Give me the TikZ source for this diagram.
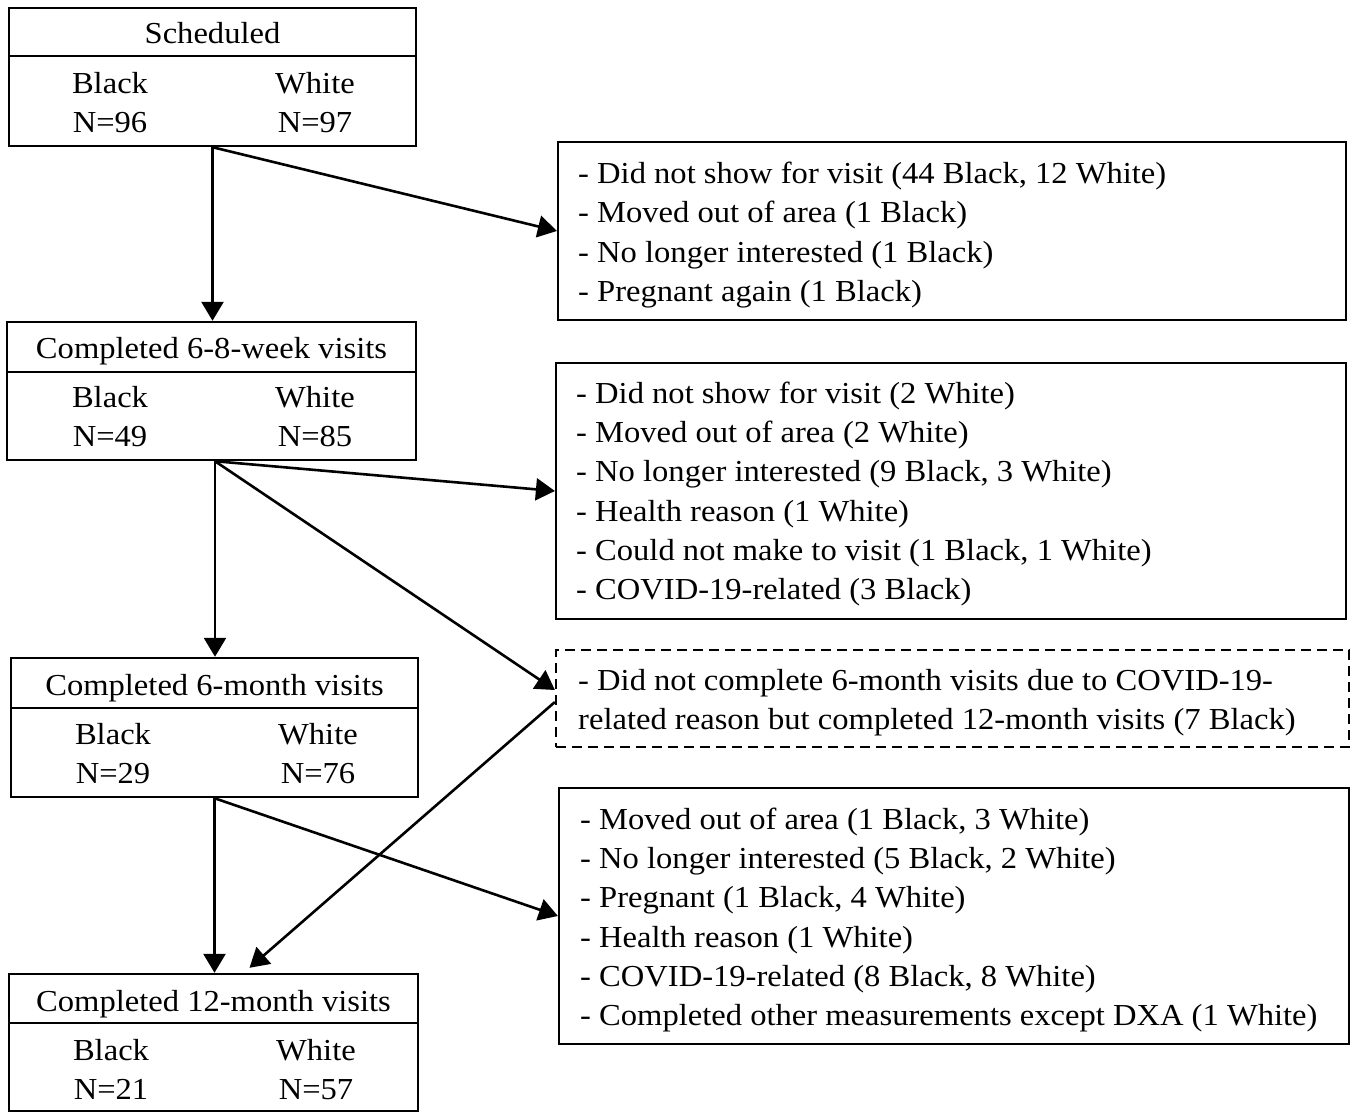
\documentclass[tikz,border=0pt]{standalone}
\usepackage{fontspec}
\setmainfont{Liberation Serif}
\newfontfamily\lfont[FakeStretch=1.068]{Liberation Serif}
\usetikzlibrary{arrows.meta}
\begin{document}
\begin{tikzpicture}[x=1pt,y=-1pt,
  lbox/.style={draw, line width=2.4pt, rectangle, inner sep=0pt},
  rbox/.style={draw, line width=2.2pt, rectangle, inner sep=0pt},
  rtxt/.style={inner sep=0pt, anchor=west, align=left,
     font=\lfont\fontsize{30.5}{39.2}\selectfont},
  txt/.style={inner sep=0pt, align=center, font=\lfont\fontsize{30.5}{39.2}\selectfont},
  ttl/.style={txt, anchor=base},
  arr/.style={line width=2.6pt, -{Triangle[length=19pt,width=22pt]}},
  divl/.style={line width=2.4pt}]
\useasboundingbox (0,0) rectangle (1353,1113);

% left boxes
\node[lbox, minimum width=407pt, minimum height=138pt] (b1) at (212.5,77) {};
\node[lbox, minimum width=409pt, minimum height=138pt] (b2) at (211.5,391) {};
\node[lbox, minimum width=407pt, minimum height=139pt] (b3) at (214.5,727.5) {};
\node[lbox, minimum width=409pt, minimum height=137pt] (b4) at (213.5,1042.5) {};

\draw[divl] (b1.west |- 0,56) -- (b1.east |- 0,56);
\draw[divl] (b2.west |- 0,372) -- (b2.east |- 0,372);
\draw[divl] (b3.west |- 0,708) -- (b3.east |- 0,708);
\draw[divl] (b4.west |- 0,1023) -- (b4.east |- 0,1023);

\node[ttl] (t1) at (212.5,44) {Scheduled};
\node[txt] (k1) at (110,102.5) {Black\\N=96};
\node[txt] (w1) at (315,102.5) {White\\N=97};

\node[ttl] (t2) at (211.5,358) {Completed 6-8-week visits};
\node[txt] (k2) at (110,416.5) {Black\\N=49};
\node[txt] (w2) at (315,416.5) {White\\N=85};

\node[ttl] (t3) at (214.5,695) {Completed 6-month visits};
\node[txt] (k3) at (113,753.5) {Black\\N=29};
\node[txt] (w3) at (318,753.5) {White\\N=76};

\node[ttl] (t4) at (213.5,1011) {Completed 12-month visits};
\node[txt] (k4) at (111,1069.5) {Black\\N=21};
\node[txt] (w4) at (316,1069.5) {White\\N=57};

% right boxes
\node[rbox, minimum width=788pt, minimum height=178pt] (r1) at (952,231) {};
\node[rtxt] (x1) at (578,235)
{- Did not show for visit (44 Black, 12 White)\\
- Moved out of area (1 Black)\\
- No longer interested (1 Black)\\
- Pregnant again (1 Black)};

\node[rbox, minimum width=790pt, minimum height=256pt] (r2) at (951,491) {};
\node[rtxt] (x2) at (576,494)
{- Did not show for visit (2 White)\\
- Moved out of area (2 White)\\
- No longer interested (9 Black, 3 White)\\
- Health reason (1 White)\\
- Could not make to visit (1 Black, 1 White)\\
- COVID-19-related (3 Black)};

\node[rbox, dashed, dash pattern=on 10pt off 6pt, minimum width=793pt, minimum height=97pt] (r3) at (952.5,698.5) {};
\node[rtxt] (x3) at (578,702.5)
{- Did not complete 6-month visits due to COVID-19-\\
related reason but completed 12-month visits (7 Black)};

\node[rbox, minimum width=790pt, minimum height=256pt] (r4) at (954,916) {};
\node[rtxt] (x4) at (580,920)
{- Moved out of area (1 Black, 3 White)\\
- No longer interested (5 Black, 2 White)\\
- Pregnant (1 Black, 4 White)\\
- Health reason (1 White)\\
- COVID-19-related (8 Black, 8 White)\\
- Completed other measurements except DXA (1 White)};

% connectors
\coordinate (c2) at ([xshift=3.5pt]b2.south);
\coordinate (e3) at ([yshift=8.5pt]r3.west);
\coordinate (s3) at ([yshift=-3.5pt]r3.west);
\coordinate (e4) at ([xshift=36pt,yshift=5pt]b4.north);

\draw[arr] (b1.south) -- (b1.south |- b2.north);
\draw[arr] (b1.south) -- (r1.west);
\draw[arr] (c2) -- (c2 |- b3.north);
\draw[arr] (c2) -- (r2.west);
\draw[arr] (c2) -- (e3);
\draw[arr] (s3) -- (e4);
\draw[arr] (b3.south) -- (b3.south |- b4.north);
\draw[arr] (b3.south) -- (r4.west);
\end{tikzpicture}
\end{document}
